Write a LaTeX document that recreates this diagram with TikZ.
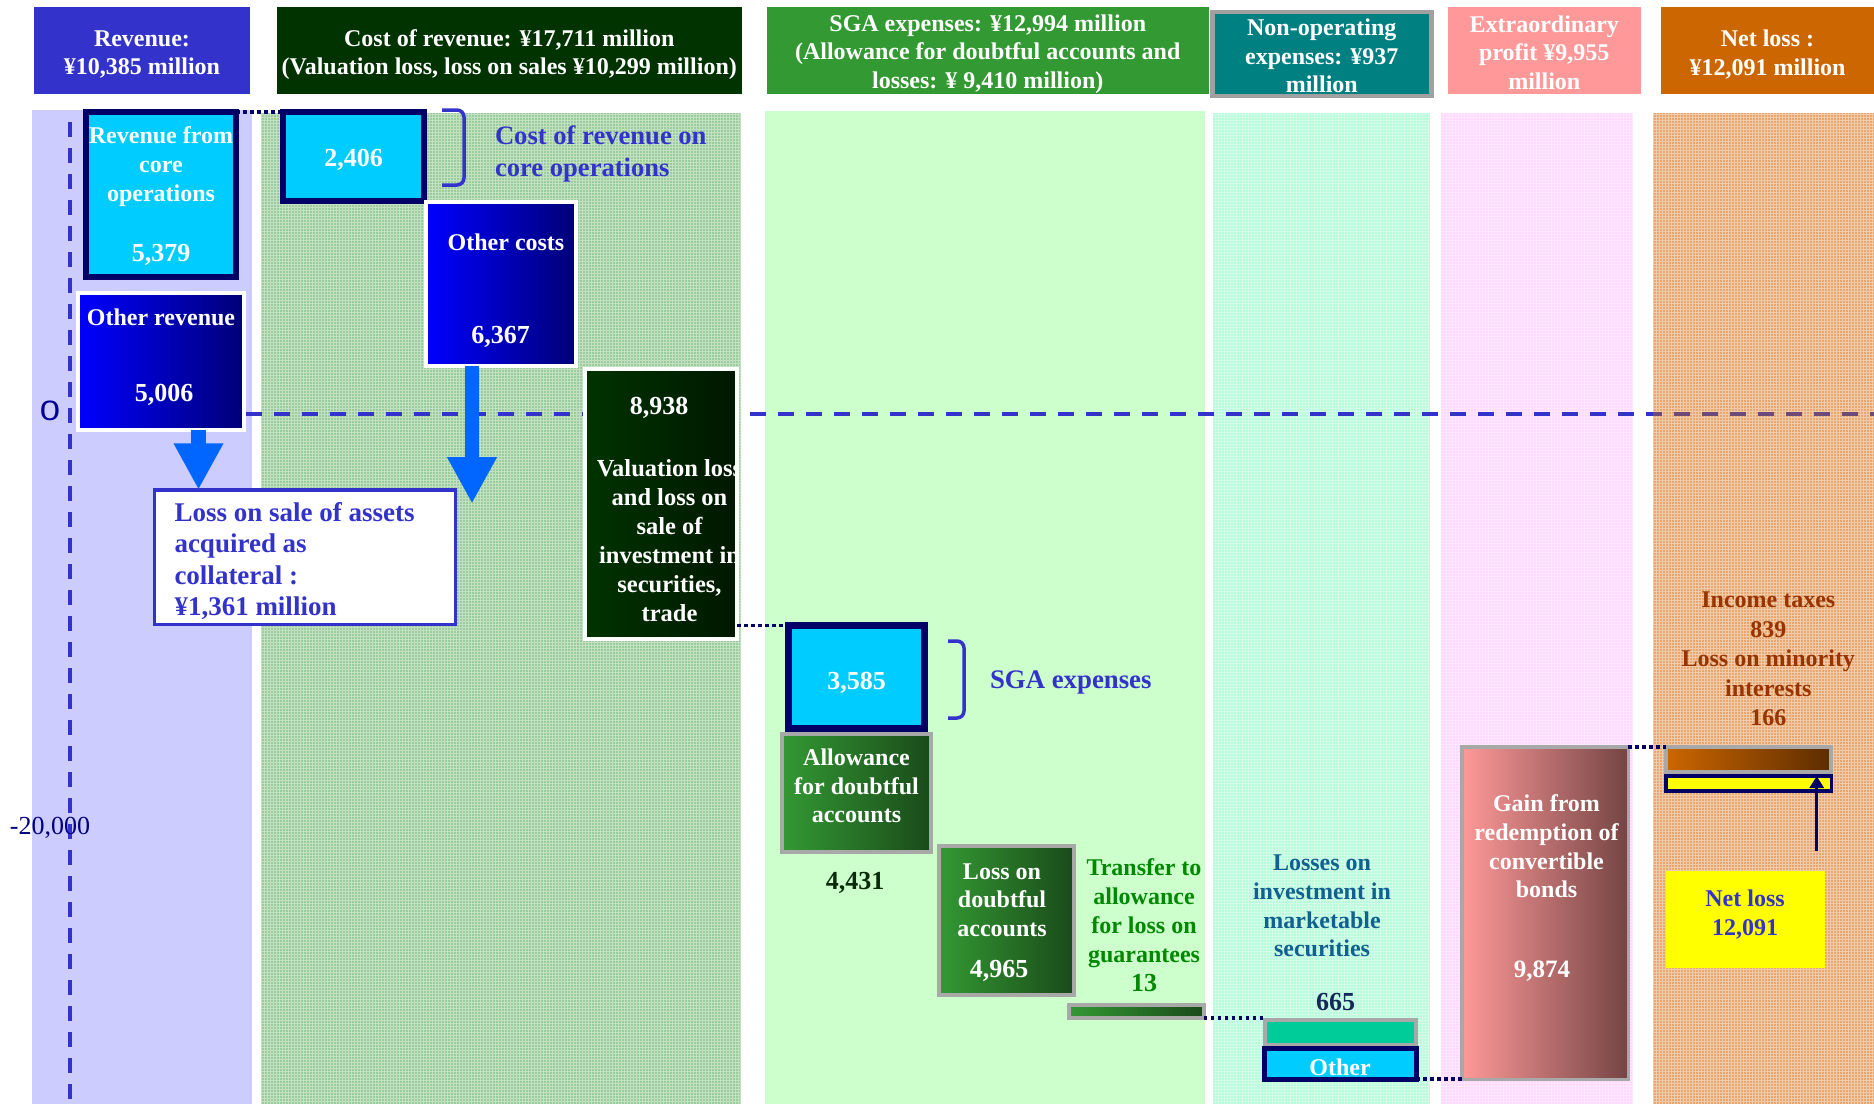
\documentclass[tikz,border=0pt]{standalone}
\usepackage{fontspec}
\usepackage{graphicx}
\setmainfont{Liberation Serif}
\setsansfont{Liberation Sans}
\usetikzlibrary{arrows.meta,calc}

\newcommand\setfs[2]{\fontsize{#1}{#2}\selectfont}

% header colours
\definecolor{hdrblue}{HTML}{3333CC}
\definecolor{hdrdkgreen}{HTML}{003300}
\definecolor{hdrgreen}{HTML}{339933}
\definecolor{hdrteal}{HTML}{008080}
\definecolor{hdrgrey}{HTML}{A0A0A0}
\definecolor{hdrpink}{HTML}{FF9999}
\definecolor{hdrorange}{HTML}{CC6600}
% column backgrounds
\definecolor{colrev}{HTML}{CCCCFF}
\definecolor{colcost}{HTML}{9BCC9B}
\definecolor{colsga}{HTML}{CCFFCC}
\definecolor{colnonop}{HTML}{B6FBDA}
\definecolor{colextra}{HTML}{FFD8FF}
\definecolor{colnet}{HTML}{E6A870}
% boxes
\definecolor{navy}{HTML}{000066}
\definecolor{cyanbox}{HTML}{00CCFF}
\definecolor{arrowblue}{HTML}{0066FF}
\definecolor{boxgrey}{HTML}{A8A8A8}
\definecolor{pureblue}{HTML}{0000FF}
\definecolor{darknavy}{HTML}{000077}
\definecolor{tradelight}{HTML}{003300}
\definecolor{tradedark}{HTML}{001800}
\definecolor{greenlight}{HTML}{339933}
\definecolor{greendark}{HTML}{1A4A1A}
\definecolor{gainlight}{HTML}{FF9999}
\definecolor{gaindark}{HTML}{744444}
\definecolor{taxlight}{HTML}{CC6600}
\definecolor{taxdark}{HTML}{5C2C00}
\definecolor{securegreen}{HTML}{00CC99}
\definecolor{netyellow}{HTML}{FFFF00}
% texts and lines
\definecolor{labelblue}{HTML}{3333CC}
\definecolor{transgreen}{HTML}{008800}
\definecolor{securblue}{HTML}{106090}
\definecolor{darknum}{HTML}{14285A}
\definecolor{numdkgreen}{HTML}{0A2A0A}
\definecolor{taxbrown}{HTML}{993300}
\definecolor{axisblue}{HTML}{000099}
\definecolor{axisnavy}{HTML}{000080}
\definecolor{zerooverorange}{HTML}{6E4A78}

\tikzset{
  every node/.style={inner sep=0pt, outer sep=0pt},
  hdrbox/.style={minimum height=87pt},
  hdr/.style={text=white, align=center, font=\bfseries\setfs{24}{28.7}},
  texture/.style={draw=white, draw opacity=0.4, line width=1pt},
  navybox/.style={draw=navy, line width=6pt, fill=cyanbox},
  whitebox/.style={draw=white, line width=4pt},
  greybox/.style={draw=boxgrey, line width=4pt},
  bluegrad/.style={left color=pureblue, right color=darknavy},
  tradegrad/.style={left color=tradelight, right color=tradedark},
  greengrad/.style={left color=greenlight, right color=greendark},
  wtext/.style={text=white, align=center, font=\bfseries\setfs{24}{28.7}},
  wnum/.style={text=white, font=\bfseries\setfs{26}{30}},
  link/.style={draw=navy, line width=3.5pt, dash pattern=on 3.5pt off 3.5pt},
  bigarrow/.style={draw=arrowblue, line width=14.5pt, -{Triangle[width=46.5pt,length=46.5pt]}},
  netarrow/.style={draw=navy, line width=3.5pt, -{Triangle[width=14pt,length=12pt]}},
  bracket/.style={draw=labelblue, line width=3.5pt, rounded corners=7pt},
  zeroline/.style={draw=labelblue, line width=4pt, dash pattern=on 16pt off 12pt},
  vaxis/.style={draw=labelblue, line width=4pt, dash pattern=on 15pt off 11pt},
}

\begin{document}
\begin{tikzpicture}[x=1pt,y=-1pt]
\useasboundingbox (0,0) rectangle (1874,1104);

% column backgrounds
\fill[colrev]   (32,110)   rectangle (252,1104);
\fill[colcost]  (260.5,113) rectangle (741,1104);
\fill[colsga]   (765,111)  rectangle (1205,1104);
\fill[colnonop] (1213,113) rectangle (1429.5,1104);
\fill[colextra] (1441,113) rectangle (1633,1104);
\fill[colnet]   (1653,113) rectangle (1874,1104);
% fine woven texture on the patterned columns
\begin{scope}
  \clip (260.5,113) rectangle (741,1104);
  \draw[texture, step=3pt] (260.5,113) grid (741,1104);
\end{scope}
\begin{scope}
  \clip (1213,113) rectangle (1429.5,1104);
  \draw[texture, step=3pt] (1213,113) grid (1429.5,1104);
\end{scope}
\begin{scope}
  \clip (1441,113) rectangle (1633,1104);
  \draw[texture, step=3pt] (1441,113) grid (1633,1104);
\end{scope}
\begin{scope}
  \clip (1653,113) rectangle (1874,1104);
  \draw[texture, step=3pt] (1653,113) grid (1874,1104);
\end{scope}

% headers
\node[hdrbox, fill=hdrblue, minimum width=216pt] (hRev) at (142,50.5) {};
\node[hdrbox, fill=hdrdkgreen, minimum width=464.5pt] (hCost) at (509.25,50.5) {};
\node[hdrbox, fill=hdrgreen, minimum width=441.5pt] (hSGA) at (987.75,50.5) {};
\node[fill=hdrteal, draw=hdrgrey, line width=4.5pt, minimum width=219pt, minimum height=84pt] (hNonop) at (1321.75,53.75) {};
\node[hdrbox, fill=hdrpink, minimum width=192.5pt] (hExtra) at (1544.25,50.5) {};
\node[hdrbox, fill=hdrorange, minimum width=213pt] (hNet) at (1767.5,50.5) {};

\node[hdr] (hRevText) at (142,54.5) {Revenue:\\¥10,385 million};
\node[hdr] (hCostText) at (509.25,54.5)
  {Cost of revenue: ¥17,711 million\\(Valuation loss, loss on sales ¥10,299 million)};
\node[hdr] (hSGAText) at (987.75,54)
  {SGA expenses: ¥12,994 million\\(Allowance for doubtful accounts and\\losses: ¥ 9,410 million)};
\node[hdr] (hNonopText) at (1321.75,56) {Non-operating\\expenses: ¥937\\million};
\node[hdr] (hExtraText) at (1544.25,52.5) {Extraordinary\\profit ¥9,955\\million};
\node[hdr] (hNetText) at (1767.5,54.5) {Net loss :\\¥12,091 million};

% axes: zero line and vertical scale line
\draw[vaxis] (69.5,122) -- (69.5,1104);
\draw[zeroline] (246,413.5) -- (1874,413.5);
\begin{scope}
  \clip (1653,113) rectangle (1874,1104);
  \draw[zeroline, draw=zerooverorange] (246,413.5) -- (1874,413.5);
\end{scope}
\node[font=\sffamily\setfs{28}{30}, text=axisblue] (lZero) at (50,411) {\scalebox{1.3}[1]{0}};
\node[font=\setfs{26}{30}, text=axisnavy] (lMinus) at (50,828) {-20,000};

% revenue column
\node[navybox, minimum width=150pt, minimum height=165pt] (bRevCore) at (161,194.5) {};
\node[whitebox, bluegrad, minimum width=166pt, minimum height=137pt] (bOthRev) at (161,361.5) {};
\node[draw=labelblue, line width=3.5pt, fill=white, minimum width=301pt, minimum height=134.5pt] (bCollat) at (304.75,557) {};

% cost of revenue column
\node[navybox, minimum width=141pt, minimum height=89pt] (bCoreCost) at (353.5,156.5) {};
\node[whitebox, bluegrad, minimum width=150pt, minimum height=164pt] (bOthCost) at (501,284) {};
\node[whitebox, tradegrad, minimum width=152pt, minimum height=270pt] (bTrade) at (661,504) {};

% SGA column
\node[greybox, greengrad, minimum width=149pt, minimum height=118pt] (bAllow) at (856.5,792.5) {};
\node[navybox, line width=7pt, minimum width=136pt, minimum height=103pt] (bSGA) at (856.5,677) {};
\node[greybox, greengrad, minimum width=135pt, minimum height=149.5pt] (bDoubt) at (1006.5,920.25) {};
\node[greybox, greengrad, minimum width=134.5pt, minimum height=13pt] (bGuar) at (1136.25,1011.5) {};

% non-operating column
\node[greybox, fill=securegreen, minimum width=151pt, minimum height=25.3pt] (bSecur) at (1340.5,1032.35) {};
\node[draw=navy, line width=5pt, fill=cyanbox, minimum width=151.5pt, minimum height=30.7pt] (bOther) at (1340.25,1063.85) {};

% extraordinary profit column
\node[draw=boxgrey, line width=3.5pt, left color=gainlight, right color=gaindark, minimum width=166.5pt, minimum height=332.5pt] (bGain) at (1545,913) {};

% net loss column
\node[greybox, left color=taxlight, right color=taxdark, minimum width=165pt, minimum height=25.3pt] (bTax) at (1748.8,759.65) {};
\node[draw=navy, line width=3.5pt, fill=netyellow, minimum width=165.5pt, minimum height=15pt] (bNetBar) at (1748.8,783.55) {};
\node[fill=netyellow, minimum width=159.3pt, minimum height=97pt] (bNetLoss) at (1745.35,919.5) {};

% dotted links between steps
\draw[link] (bRevCore.north east) -- (bCoreCost.north west);
\draw[link] (bSGA.north west -| bTrade.east) -- (bSGA.north west);
\draw[link] (bGuar.south east) -- (bGuar.south east -| bSecur.west);
\draw[link] (bOther.south east) -- (bOther.south east -| bGain.west);
\draw[link] (bGain.north east) -- (bGain.north east -| bTax.west);

% downward arrows
\coordinate (arrRevX) at (198.5,0);
\draw[bigarrow] (bOthRev.south -| arrRevX) -- (bCollat.north -| arrRevX);
\coordinate (arrCostTip) at (472,503.6);
\draw[bigarrow] (bOthCost.south -| arrCostTip) -- (arrCostTip);
\coordinate (netArrFrom) at (1816.7,851);
\draw[netarrow] (netArrFrom) -- (netArrFrom |- bNetBar.north);

% brackets
\draw[bracket] (442,110) -- (464,110) -- (464,185) -- (442,185);
\draw[bracket] (948,641) -- (964,641) -- (964,718) -- (948,718);

% labels: revenue
\node[wtext] (tRevCore) at (161,166.5) {Revenue from\\core\\operations};
\node[wnum] (nRevCore) at (161,254.5) {5,379};
\node[wtext] (tOthRev) at (161,317) {Other revenue};
\node[wnum] (nOthRev) at (164,394.5) {5,006};
\node[font=\bfseries\setfs{27}{31.5}, text=labelblue, align=left, anchor=west] (tCollat) at (174.5,561)
  {Loss on sale of assets\\acquired as\\collateral :\\¥1,361 million};

% labels: cost of revenue
\node[wnum] (nCoreCost) at (353.5,159.5) {2,406};
\node[font=\bfseries\setfs{26.6}{32}, text=labelblue, align=left, anchor=west] (tCoR) at (495,153.5)
  {Cost of revenue on\\core operations};
\node[wtext] (tOthCost) at (506,242) {Other costs};
\node[wnum] (nOthCost) at (500.5,336.5) {6,367};
\node[wnum] (nTrade) at (659,407.5) {8,938};
\begin{scope}
  \clip (bTrade.north west) rectangle (bTrade.south east);
  \node[wtext, font=\bfseries\setfs{24.5}{29}] (tTrade) at (669.5,541)
    {Valuation loss\\and loss on\\sale of\\investment in\\securities,\\trade};
\end{scope}

% labels: SGA
\node[wnum] (nSGA) at (856.5,682.5) {3,585};
\node[font=\bfseries\setfs{26.8}{32}, text=labelblue, anchor=west] (tSGA) at (990,682) {SGA expenses};
\node[wtext] (tAllow) at (856.5,786) {Allowance\\for doubtful\\accounts};
\node[font=\bfseries\setfs{26}{30}, text=numdkgreen] (nAllow) at (855,882.5) {4,431};
\node[wtext] (tDoubt) at (1002,900) {Loss on\\doubtful\\accounts};
\node[wnum] (nDoubt) at (999,971) {4,965};
\node[font=\bfseries\setfs{24}{29}, text=transgreen, align=center] (tGuar) at (1144,925)
  {Transfer to\\allowance\\for loss on\\guarantees\\{\setfs{26}{29}13}};

% labels: non-operating
\node[font=\bfseries\setfs{24}{28.7}, text=securblue, align=center] (tSecur) at (1322,906)
  {Losses on\\investment in\\marketable\\securities};
\node[font=\bfseries\setfs{26}{30}, text=darknum] (nSecur) at (1335.5,1002.5) {665};
\node[font=\bfseries\setfs{24}{28}, text=white] (tOther) at (1340,1067) {Other};

% labels: extraordinary profit
\node[font=\bfseries\setfs{24}{28.6}, text=white, align=center] (tGain) at (1546.5,846.5)
  {Gain from\\redemption of\\convertible\\bonds};
\node[font=\bfseries\setfs{25}{28}, text=white] (nGain) at (1542,970.8) {9,874};

% labels: net loss
\node[font=\bfseries\setfs{24}{29.6}, text=taxbrown, align=center] (tTax) at (1768.3,659)
  {Income taxes\\839\\Loss on minority\\interests\\166};
\node[font=\bfseries\setfs{24}{29.6}, text=labelblue, align=center] (tNetLoss) at (1745,914.5)
  {Net loss\\12,091};
\end{tikzpicture}
\end{document}
